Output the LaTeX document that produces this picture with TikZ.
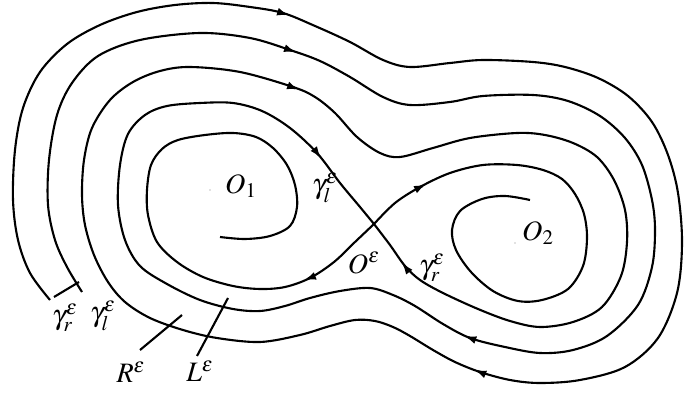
\documentclass[tikz,border=0pt]{standalone}
\usepackage{mathptmx}
\usetikzlibrary{arrows.meta}

\begin{document}
\begin{tikzpicture}[x=0.02cm,y=-0.02cm,line width=1.2pt,
  orbit/.style={smooth,tension=0.55},
  flow/.style={-{Latex[length=2.4mm,width=1.6mm]}},
  every node/.style={font=\fontsize{16}{18}\selectfont,inner sep=1pt}]
  \useasboundingbox (0,0) rectangle (685,394);

  % gamma_r
  \draw plot[orbit] coordinates {(50,300) (30,273) (18,240) (13,200) (15,150) (23,108) (40,72)
    (67,44) (100,25) (137,12) (175,5) (213,3) (250,7) (283,13) (315,26) (350,42) (383,60)
    (410,67) (450,63) (483,60) (533,62) (565,67) (598,78) (628,96) (652,122) (668,155)
    (678,193) (682,243) (677,293) (658,338) (625,367) (580,380) (540,383) (510,380) (480,372)
    (455,362) (433,350) (410,336) (393,327) (375,321) (355,320) (330,326) (300,335) (260,342)
    (217,338) (183,330) (150,318) (125,302) (108,282) (94,255) (85,225) (82,195) (84,160)
    (92,128) (110,100) (133,82) (160,71) (190,67) (240,72) (293,87) (315,97) (335,113)
    (357,137) (380,153) (400,157) (433,148) (470,138) (517,133) (545,135) (573,143) (597,157)
    (614,180) (625,210) (627,242) (621,276) (602,307) (573,322) (540,327) (510,321) (478,309)
    (443,293) (420,280) (405,266) (390,245) (374,224)};

  % gamma_l
  \draw plot[orbit] coordinates {(82,292) (67,267) (55,240) (48,205) (49,160) (57,115) (72,83)
    (98,56) (140,40) (200,33) (250,38) (290,50) (320,61) (350,77) (383,97) (410,105) (450,102)
    (483,96) (533,95) (568,101) (600,116) (625,138) (642,165) (652,200) (655,230) (652,267)
    (638,305) (607,336) (573,350) (540,353) (505,347) (470,338) (443,324) (415,306) (393,295)
    (370,288) (340,291) (310,298) (285,306) (260,311) (233,309) (200,300) (167,284) (140,266)
    (125,240) (118,205) (120,165) (128,134) (145,115) (167,106) (200,103) (233,103) (262,111)
    (290,128) (317,153) (340,183) (360,207) (374,224)};

  % unstable branches
  \draw plot[orbit] coordinates {(374,224) (395,203) (420,187) (450,173) (483,165) (517,165)
    (543,170) (562,179) (575,194) (584,214) (587,238) (583,266) (568,289) (542,300) (518,301)
    (493,291) (471,272) (456,250) (452,230) (460,211) (482,199) (505,196) (530,200)};
  \draw plot[orbit] coordinates {(374,224) (355,242) (334,262) (310,278) (285,287) (260,289)
    (233,286) (203,277) (177,262) (157,242) (148,215) (147,190) (151,165) (162,149) (178,140)
    (205,135) (233,133) (256,137) (273,148) (287,165) (295,185) (297,207) (290,226) (270,236)
    (245,239) (220,237)};

  \foreach \a/\b/\c/\d in {285/14.1/289/15.4, 292/50.8/296/52.2, 295/88.2/299/89.7,
    318.6/155/321/158.2, 422.4/186/426/184.2, 307.7/278.8/304/280.2, 404.4/265.7/402/262.5,
    468.2/337.3/464.4/335.9, 478.1/371.3/474.4/369.8}
    \draw[flow] (\a,\b) -- (\c,\d);

  \fill[gray] (210,190) circle (0.6);
  \fill[gray] (515,243) circle (0.6);

  \node (O1) at (241,186) {$O_1$};
  \node (O2) at (538,233) {$O_2$};
  \node (Oe) at (364,263) {$O^\varepsilon$};
  \node (gl) at (325,188) {$\gamma_l^\varepsilon$};
  \node (gr) at (432,268) {$\gamma_r^\varepsilon$};
  \node (grend) at (65,318) {$\gamma_r^\varepsilon$};
  \node (glend) at (103,316) {$\gamma_l^\varepsilon$};
  \node (R) at (131,372) {$R^\varepsilon$};
  \node (L) at (200,371) {$L^\varepsilon$};

  \coordinate (tickr) at (54,297);
  \coordinate (tickl) at (79,282);
  \coordinate (Rfoot) at (140,350);
  \coordinate (Rtip) at (182,315);
  \coordinate (Lfoot) at (197,356);
  \coordinate (Ltip) at (228,298);
  \draw (tickr) -- (tickl);
  \draw (Rfoot) -- (Rtip);
  \draw (Lfoot) -- (Ltip);
\end{tikzpicture}
\end{document}
